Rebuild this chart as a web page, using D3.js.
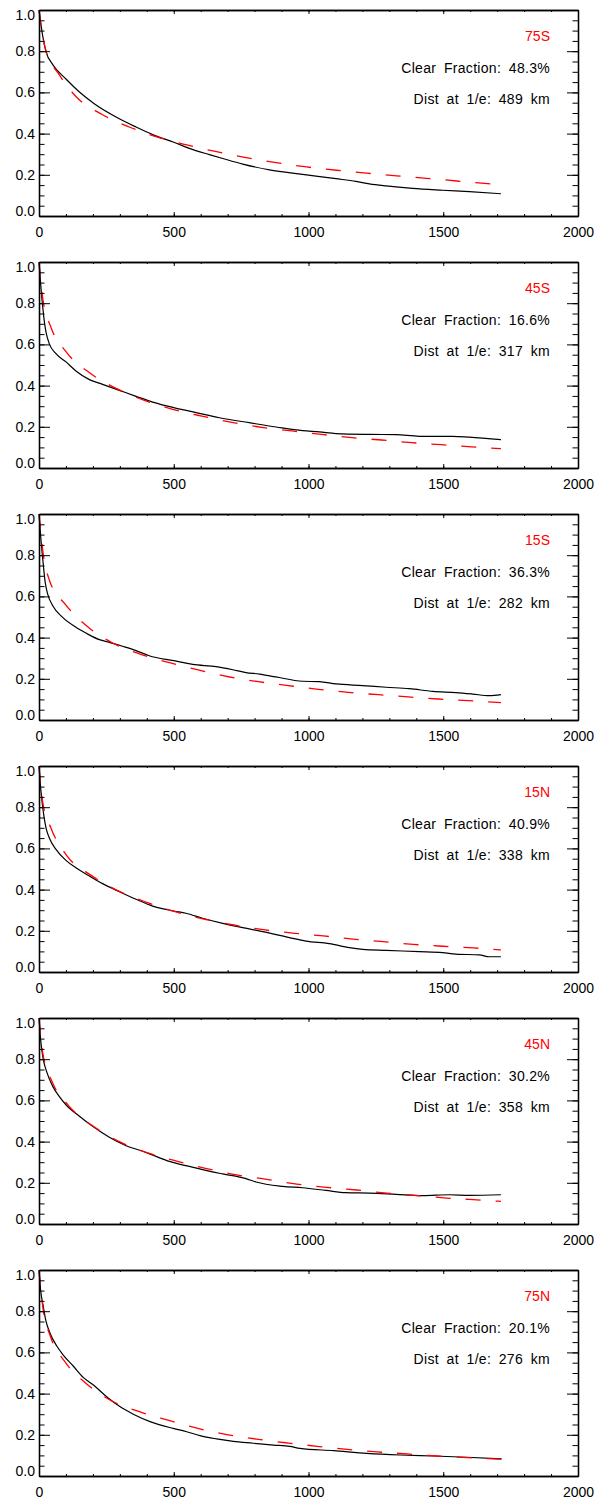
<!DOCTYPE html>
<html>
<head>
<meta charset="utf-8">
<script src="https://cdn.jsdelivr.net/npm/d3@7"></script>
<style>
  html, body { margin: 0; padding: 0; background: #fff; }
  svg { display: block; }
  text { font-family: "Liberation Sans", Arial, sans-serif; }
</style>
</head>
<body>
<svg id="chart" width="596" height="1501"></svg>
<script>
// ---------------- DATA ----------------
const regions = ["75S", "45S", "15S", "15N", "45N", "75N"];
const clearFractions = ["48.3%", "16.6%", "36.3%", "40.9%", "30.2%", "20.1%"];
const efoldDist = [489, 317, 282, 338, 358, 276];

const xMajorTicks = [0, 500, 1000, 1500, 2000];
const yMajorTicks = [0.0, 0.2, 0.4, 0.6, 0.8, 1.0];
const yTickLabels = ["0.0", "0.2", "0.4", "0.6", "0.8", "1.0"];

// observed correlation (black solid) [distance km, value]
const obs75S = [[0,1.0],[14,0.872],[26,0.798],[51,0.735],[100,0.665],[150,0.602],[205,0.545],[298,0.472],[360,0.432],[422,0.395],[500,0.358],[558,0.328],[632,0.298],[682,0.279],[756,0.252],[855,0.224],[978,0.202],[1102,0.181],[1176,0.168],[1226,0.156],[1288,0.146],[1386,0.134],[1498,0.125],[1597,0.118],[1714,0.108]];
const obs45S = [[0,1.0],[6,0.895],[14,0.78],[21,0.70],[26,0.66],[38,0.604],[63,0.555],[100,0.515],[137,0.471],[187,0.429],[236,0.406],[298,0.377],[360,0.348],[422,0.32],[500,0.293],[583,0.269],[669,0.244],[780,0.22],[880,0.199],[978,0.181],[1040,0.175],[1102,0.167],[1226,0.163],[1325,0.162],[1411,0.154],[1535,0.154],[1597,0.15],[1714,0.138]];
const obs15S = [[0,1.0],[6,0.895],[14,0.78],[23,0.668],[32,0.612],[51,0.555],[88,0.498],[137,0.45],[174,0.422],[224,0.39],[261,0.377],[310,0.358],[360,0.337],[409,0.312],[500,0.288],[570,0.27],[657,0.259],[719,0.244],[768,0.23],[818,0.223],[879,0.209],[978,0.188],[1040,0.186],[1102,0.175],[1201,0.167],[1288,0.159],[1374,0.152],[1461,0.139],[1547,0.133],[1609,0.126],[1671,0.118],[1714,0.123]];
const obs15N = [[0,1.0],[6,0.895],[14,0.798],[26,0.70],[38,0.652],[63,0.595],[100,0.542],[137,0.506],[187,0.466],[236,0.429],[298,0.39],[360,0.353],[422,0.32],[500,0.296],[545,0.285],[607,0.261],[682,0.236],[756,0.215],[830,0.196],[929,0.167],[991,0.15],[1077,0.138],[1152,0.118],[1201,0.11],[1288,0.105],[1411,0.099],[1498,0.094],[1547,0.087],[1634,0.083],[1671,0.074],[1714,0.074]];
const obs45N = [[0,1.0],[6,0.895],[16,0.798],[28,0.741],[51,0.668],[75,0.62],[100,0.579],[150,0.523],[199,0.474],[261,0.421],[323,0.38],[385,0.353],[434,0.328],[484,0.304],[545,0.283],[607,0.264],[682,0.243],[768,0.22],[805,0.204],[904,0.183],[978,0.176],[1065,0.163],[1139,0.152],[1226,0.15],[1325,0.144],[1424,0.138],[1523,0.142],[1597,0.139],[1714,0.142]];
const obs75N = [[0,1.0],[6,0.903],[16,0.822],[25,0.757],[41,0.693],[66,0.631],[90,0.587],[127,0.534],[164,0.479],[202,0.442],[251,0.385],[300,0.337],[350,0.300],[412,0.264],[498,0.231],[548,0.215],[597,0.196],[659,0.18],[721,0.168],[795,0.159],[870,0.15],[931,0.144],[968,0.134],[1093,0.123],[1217,0.11],[1341,0.102],[1464,0.097],[1587,0.091],[1717,0.083]];

// fitted curve (red dashed) [distance km, value]
const fit75S = [[0,1.0],[7,0.93],[26,0.80],[73,0.690],[137,0.580],[233,0.494],[335,0.432],[440,0.383],[545,0.346],[659,0.312],[768,0.283],[880,0.259],[993,0.238],[1104,0.222],[1216,0.208],[1327,0.195],[1438,0.183],[1550,0.170],[1665,0.157],[1714,0.152]];
const fit45S = [[0,1.0],[14,0.822],[45,0.681],[100,0.565],[189,0.461],[288,0.385],[391,0.328],[496,0.285],[604,0.252],[715,0.222],[826,0.197],[938,0.18],[1049,0.163],[1160,0.147],[1271,0.136],[1383,0.123],[1493,0.113],[1605,0.103],[1714,0.094]];
const fit15S = [[0,1.0],[14,0.822],[38,0.681],[100,0.558],[183,0.45],[273,0.374],[378,0.319],[484,0.278],[591,0.243],[703,0.210],[814,0.186],[925,0.167],[1036,0.149],[1148,0.134],[1259,0.123],[1370,0.112],[1481,0.102],[1592,0.094],[1714,0.084]];
const fit15N = [[0,1.0],[14,0.822],[45,0.697],[103,0.565],[195,0.468],[292,0.395],[400,0.338],[508,0.292],[616,0.256],[727,0.227],[839,0.204],[950,0.188],[1055,0.175],[1166,0.16],[1278,0.147],[1389,0.134],[1500,0.125],[1612,0.117],[1714,0.107]];
const fit45N = [[0,1.0],[14,0.83],[51,0.684],[109,0.576],[211,0.466],[304,0.396],[409,0.343],[514,0.304],[622,0.269],[733,0.238],[845,0.217],[956,0.194],[1067,0.178],[1179,0.165],[1290,0.15],[1401,0.138],[1513,0.126],[1624,0.117],[1714,0.11]];
const fit75N = [[0,1.0],[14,0.822],[43,0.676],[96,0.555],[177,0.447],[272,0.363],[375,0.311],[482,0.270],[593,0.230],[702,0.200],[814,0.178],[925,0.160],[1033,0.144],[1144,0.129],[1255,0.117],[1367,0.107],[1478,0.097],[1590,0.089],[1714,0.082]];

const observed = [obs75S, obs45S, obs15S, obs15N, obs45N, obs75N];
const fitted = [fit75S, fit45S, fit15S, fit15N, fit45N, fit75N];

// ---------------- LAYOUT ----------------
const plotLeft = 39, plotRight = 578, plotH = 206, firstTop = 10, panelStep = 252;

const svg = d3.select("#chart");
const x = d3.scaleLinear().domain([0, 2000]).range([plotLeft, plotRight]);
const xMinor = d3.range(0, 2001, 100);
const yMinor = d3.range(0, 21).map(i => i * 0.05);

regions.forEach((reg, i) => {
  const top = firstTop + i * panelStep;
  const bottom = top + plotH;
  const y = d3.scaleLinear().domain([0, 1]).range([bottom, top]);
  const g = svg.append("g");

  const line = d3.line().x(d => x(d[0])).y(d => y(d[1])).curve(d3.curveMonotoneX);

  // observed (black)
  g.append("path").datum(observed[i])
    .attr("fill", "none").attr("stroke", "#000").attr("stroke-width", 1.2)
    .attr("d", line);
  // fit (red dashed)
  g.append("path").datum(fitted[i])
    .attr("fill", "none").attr("stroke", "#ff0000").attr("stroke-width", 1.3)
    .attr("stroke-dasharray", "15,15")
    .attr("d", line);

  const styleAxis = sel => {
    sel.selectAll("path.domain").attr("stroke", "#000").attr("stroke-width", 1.3);
    sel.selectAll(".tick line").attr("stroke", "#000").attr("stroke-width", 1);
    sel.selectAll("text").attr("fill", "#000").style("font-size", "14px")
      .style("font-family", "'Liberation Sans', Arial, sans-serif");
  };

  // minor ticks
  g.append("g").attr("transform", `translate(0,${bottom})`)
    .call(d3.axisBottom(x).tickValues(xMinor).tickSizeInner(-2).tickSizeOuter(0).tickFormat(""))
    .call(styleAxis);
  g.append("g").attr("transform", `translate(0,${top})`)
    .call(d3.axisTop(x).tickValues(xMinor).tickSizeInner(-2).tickSizeOuter(0).tickFormat(""))
    .call(styleAxis);
  g.append("g").attr("transform", `translate(${plotLeft},0)`)
    .call(d3.axisLeft(y).tickValues(yMinor).tickSizeInner(-5.5).tickSizeOuter(0).tickFormat(""))
    .call(styleAxis);
  g.append("g").attr("transform", `translate(${plotRight},0)`)
    .call(d3.axisRight(y).tickValues(yMinor).tickSizeInner(-5.5).tickSizeOuter(0).tickFormat(""))
    .call(styleAxis);

  // major ticks
  const xb = g.append("g").attr("transform", `translate(0,${bottom})`)
    .call(d3.axisBottom(x).tickValues(xMajorTicks).tickSizeInner(-4).tickSizeOuter(0).tickFormat(d3.format("d")))
    .call(styleAxis);
  xb.selectAll("text").attr("y", 21).attr("dy", 0);
  g.append("g").attr("transform", `translate(0,${top})`)
    .call(d3.axisTop(x).tickValues(xMajorTicks).tickSizeInner(-4).tickSizeOuter(0).tickFormat(""))
    .call(styleAxis);
  const yl = g.append("g").attr("transform", `translate(${plotLeft},0)`)
    .call(d3.axisLeft(y).tickValues(yMajorTicks).tickSizeInner(-11).tickSizeOuter(0)
      .tickPadding(4).tickFormat((d, k) => yTickLabels[k]))
    .call(styleAxis);
  yl.selectAll("text").attr("dy", 0).attr("y", d => {
    const yy = y(d);
    return Math.max(top + 9, Math.min(bottom - 1, yy + 4.5)) - yy;
  });
  g.append("g").attr("transform", `translate(${plotRight},0)`)
    .call(d3.axisRight(y).tickValues(yMajorTicks).tickSizeInner(-11).tickSizeOuter(0).tickFormat(""))
    .call(styleAxis);

  // annotations
  const tx = 550;
  g.append("text").attr("x", tx).attr("y", top + 31).attr("text-anchor", "end")
    .attr("fill", "#ff0000").style("font-size", "14px").text(reg);
  g.append("text").attr("x", tx).attr("y", top + 62.7).attr("text-anchor", "end")
    .attr("fill", "#000").style("font-size", "14px").style("word-spacing", "3.5px").style("letter-spacing", "0.3px")
    .text("Clear Fraction: " + clearFractions[i]);
  g.append("text").attr("x", tx).attr("y", top + 94).attr("text-anchor", "end")
    .attr("fill", "#000").style("font-size", "14px").style("word-spacing", "3.5px").style("letter-spacing", "0.3px")
    .text("Dist at 1/e: " + efoldDist[i] + " km");
});
</script>
</body>
</html>
